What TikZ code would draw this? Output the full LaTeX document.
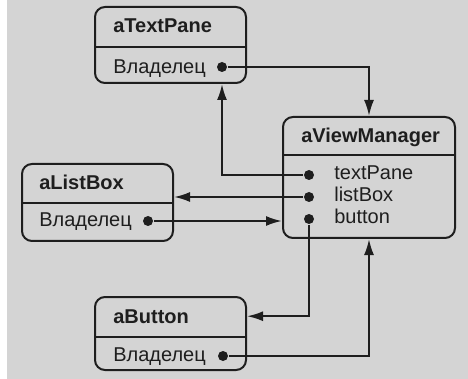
\documentclass[tikz,border=0pt]{standalone}
\usepackage{fontspec}
\setmainfont{Liberation Sans}
\usetikzlibrary{arrows.meta,positioning}

\definecolor{paper}{RGB}{212,212,212}
\definecolor{ink}{RGB}{30,30,30}

\begin{document}
\begin{tikzpicture}[x=1pt, y=-1pt, line width=2pt, draw=ink, text=ink,
  every node/.style={font=\fontsize{20}{24}\selectfont},
  objbox/.style={draw, rounded corners=10pt, minimum width=151pt},
  hdr/.style={anchor=base west, font=\fontsize{20}{24}\selectfont\bfseries},
  attr/.style={anchor=base west},
  dot/.style={circle, fill=ink, inner sep=0pt, minimum size=10pt},
  arr/.style={-{Latex[length=16pt,width=10pt]}}]
  \useasboundingbox (0,0) rectangle (468,379);
  \fill[paper] (7,0) rectangle (468,379);

  % object boxes
  \node[objbox, minimum height=76pt] (tp) at (170.5,45) {};
  \node[objbox, minimum width=172pt, minimum height=121pt] (vm) at (369,177.5) {};
  \node[objbox, minimum height=77pt] (lb) at (97.5,202.5) {};
  \node[objbox, minimum height=73pt] (bt) at (170.5,333.5) {};

  \draw (tp.west |- 0,47) -- (tp.east |- 0,47);
  \draw (vm.west |- 0,155) -- (vm.east |- 0,155);
  \draw (lb.west |- 0,203) -- (lb.east |- 0,203);
  \draw (bt.west |- 0,337) -- (bt.east |- 0,337);

  % names and fields
  \node[hdr] (tpt) at (109,33) {aTextPane};
  \node[attr] (tpa) at (109,74) {Владелец};
  \node[dot] (tpo) at (222,67) {};

  \node[hdr] (vmt) at (297,143) {aViewManager};
  \node[attr] (vmtp) at (330,180) {textPane};
  \node[attr] (vmlb) at (330,202) {listBox};
  \node[attr] (vmbt) at (330,224) {button};
  \node[dot] (vtp) at (309,175) {};
  \node[dot] (vlb) at (309,197) {};
  \node[dot] (vbt) at (309,219) {};

  \node[hdr] (lbt) at (35,190) {aListBox};
  \node[attr] (lba) at (35,226) {Владелец};
  \node[dot] (lbo) at (148,221) {};

  \node[hdr] (btt) at (109,323) {aButton};
  \node[attr] (bta) at (109,361) {Владелец};
  \node[dot] (bto) at (223,356) {};

  % references
  \draw[arr] (tpo) -| (vm.north);
  \draw[arr] (vtp) -| (tpo |- tp.south);
  \draw[arr] (vlb) -- (vlb -| lb.east);
  \draw[arr] (lbo) -- (lbo -| vm.west);
  \draw[arr] (vbt) |- (bt.east |- btt);
  \draw[arr] (bto) -| (vm.south);
\end{tikzpicture}
\end{document}
